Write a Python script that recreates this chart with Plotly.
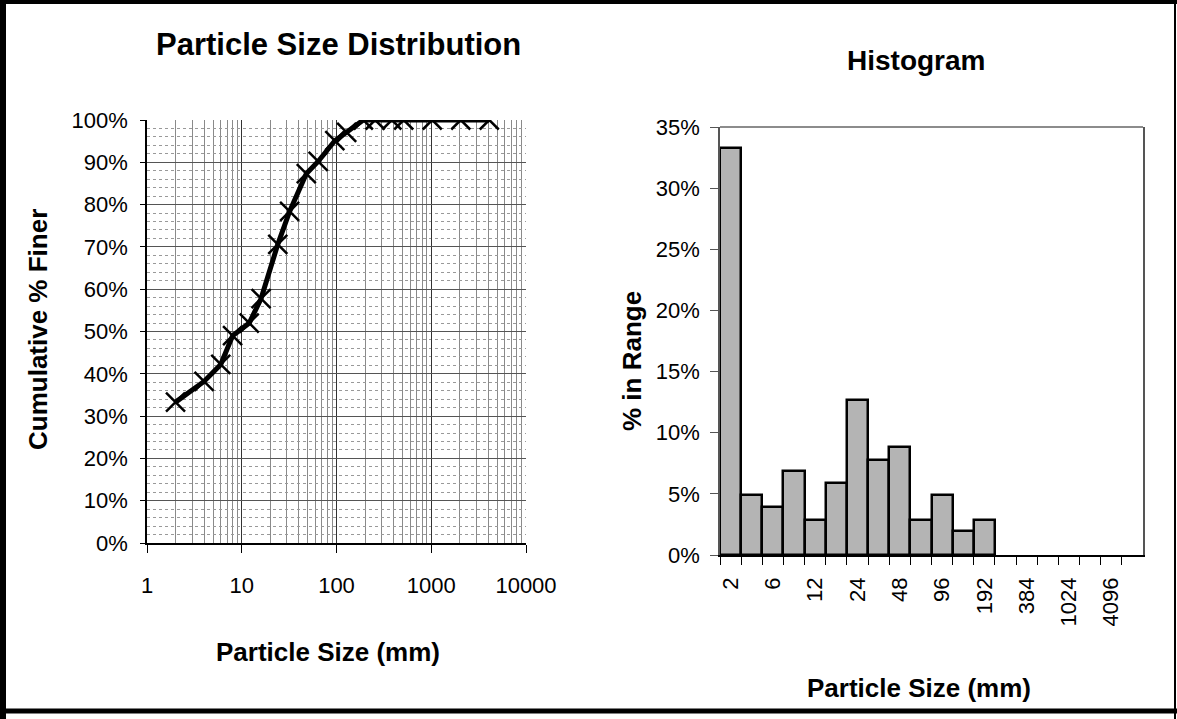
import plotly.graph_objects as go

# ---------------- data ----------------
sizes_mm = [2, 4, 6, 8, 12, 16, 24, 32, 48, 64, 96, 128, 192, 256, 384, 512, 1024, 2048, 4096]
cum_finer = [0.333, 0.382, 0.422, 0.490, 0.520, 0.578, 0.706, 0.784, 0.873, 0.902, 0.951, 0.971,
             1.0, 1.0, 1.0, 1.0, 1.0, 1.0, 1.0]

hist_bins = ["2", "4", "6", "8", "12", "16", "24", "32", "48", "64", "96", "128", "192",
             "256", "384", "512", "1024", "2048", "4096", "8192"]
hist_pct = [0.333, 0.049, 0.039, 0.069, 0.029, 0.059, 0.127, 0.078, 0.088, 0.029, 0.049, 0.020, 0.029]
hist_labels_shown = ["2", "6", "12", "24", "48", "96", "192", "384", "1024", "4096"]

left_xticks = [1, 10, 100, 1000, 10000]
left_xticktext = ["1", "10", "100", "1000", "10000"]

# ---------------- figure ----------------
W, H = 1177, 719
FONT = "Arial, Liberation Sans, sans-serif"


def px(x):
    return x / W


def py(y):
    return 1 - y / H


fig = go.Figure()

fig.add_trace(go.Scatter(
    x=sizes_mm, y=cum_finer, mode="lines+markers",
    line=dict(color="black", width=5),
    marker=dict(symbol="x-thin-open", size=19, color="black", line=dict(color="black", width=2.5)),
    xaxis="x", yaxis="y", showlegend=False,
))

fig.add_trace(go.Bar(
    x=hist_bins[:len(hist_pct)], y=hist_pct,
    marker=dict(color="#b4b4b4", line=dict(color="black", width=2.5)),
    xaxis="x2", yaxis="y2", showlegend=False,
))

tick_font = dict(family=FONT, size=22, color="black")

fig.update_layout(
    width=W, height=H,
    margin=dict(l=0, r=0, t=0, b=0, autoexpand=False),
    paper_bgcolor="white", plot_bgcolor="white",
    bargap=0,
    font=dict(family=FONT, color="black"),
    xaxis=dict(
        domain=[px(147), px(526)], anchor="y", automargin=False,
        type="log", range=[0, 4],
        tickmode="array", tickvals=left_xticks, ticktext=left_xticktext,
        showgrid=True, gridcolor="#333", gridwidth=1,
        minor=dict(dtick="D1", showgrid=True, gridcolor="#8a8a8a", gridwidth=1,
                   ticks=""),
        showline=True, linecolor="black", linewidth=1.5,
        ticks="outside", ticklen=8, tickcolor="black",
        tickfont=tick_font, ticklabelstandoff=14,
        zeroline=False,
    ),
    yaxis=dict(
        domain=[py(543), py(120)], anchor="x", automargin=False,
        range=[0, 1], dtick=0.1, tickformat=".0%",
        showgrid=True, gridcolor="#555", gridwidth=1,
        minor=dict(dtick=0.02, showgrid=True, gridcolor="#999", griddash="dot", gridwidth=1),
        showline=True, linecolor="black", linewidth=1.5,
        ticks="outside", ticklen=5, tickcolor="black",
        tickfont=tick_font, ticklabelstandoff=8,
        zeroline=False,
    ),
    xaxis2=dict(
        domain=[px(720), px(1143)], anchor="y2", automargin=False,
        type="category", categoryorder="array", categoryarray=hist_bins,
        range=[-0.5, len(hist_bins) - 0.5],
        tickmode="array", tickvals=hist_bins,
        ticktext=[b if b in hist_labels_shown else "" for b in hist_bins],
        tickson="boundaries", tickangle=-90,
        showgrid=False,
        showline=True, linecolor="black", linewidth=1.5,
        ticks="outside", ticklen=8, tickcolor="black",
        tickfont=tick_font, ticklabelstandoff=12,
    ),
    yaxis2=dict(
        domain=[py(555), py(127)], anchor="x2", automargin=False,
        range=[0, 0.35], dtick=0.05, tickformat=".0%",
        showgrid=False, zeroline=False,
        showline=True, linecolor="#555", linewidth=1.5, mirror=True,
        ticks="outside", ticklen=8, tickcolor="#555",
        tickfont=tick_font, ticklabelstandoff=6,
    ),
)

# histogram plot-area frame (top border)
fig.add_shape(type="line", xref="x2 domain", yref="y2 domain", x0=0, x1=1, y0=1, y1=1,
              line=dict(color="#666", width=1.5))

# page frame
fig.add_shape(type="line", xref="paper", yref="paper", x0=px(3), x1=px(3), y0=0, y1=1,
              line=dict(color="black", width=6))
fig.add_shape(type="line", xref="paper", yref="paper", x0=0, x1=1, y0=py(2), y1=py(2),
              line=dict(color="black", width=4))
fig.add_shape(type="line", xref="paper", yref="paper", x0=0, x1=1, y0=py(711), y1=py(711),
              line=dict(color="black", width=5))
fig.add_shape(type="line", xref="paper", yref="paper", x0=px(1175), x1=px(1175), y0=0, y1=1,
              line=dict(color="black", width=2))

ann = [
    dict(text="<b>Particle Size Distribution</b>", x=px(338), y=py(44), size=31, angle=0),
    dict(text="<b>Histogram</b>", x=px(916), y=py(60), size=28, angle=0),
    dict(text="<b>Cumulative % Finer</b>", x=px(38), y=py(330), size=26, angle=-90),
    dict(text="<b>Particle Size (mm)</b>", x=px(328), y=py(652), size=26, angle=0),
    dict(text="<b>% in Range</b>", x=px(632), y=py(361), size=26, angle=-90),
    dict(text="<b>Particle Size (mm)</b>", x=px(919), y=py(688), size=26, angle=0),
]
for a in ann:
    fig.add_annotation(text=a["text"], x=a["x"], y=a["y"], xref="paper", yref="paper",
                       xanchor="center", yanchor="middle", showarrow=False, textangle=a["angle"],
                       font=dict(family=FONT, size=a["size"], color="black"))

fig.write_html(
    "out.html",
    config={"displayModeBar": False},
    post_script="document.body.style.margin='0';document.body.style.overflow='hidden';",
)
